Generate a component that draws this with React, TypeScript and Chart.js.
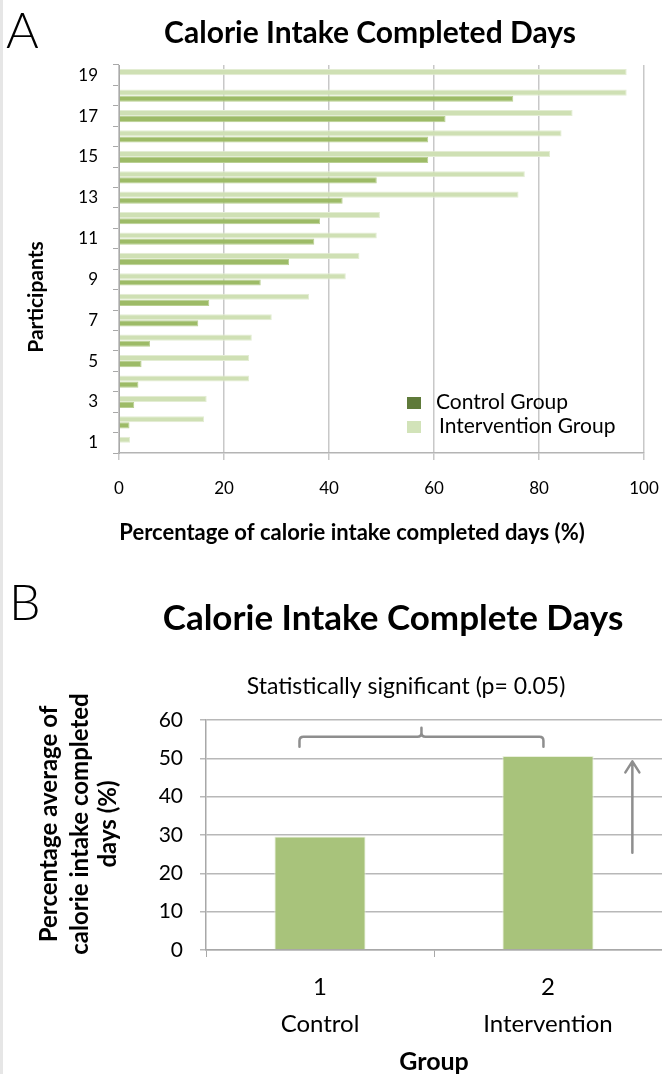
import React, { useEffect, useRef } from "react";
import { Chart, registerables } from "chart.js";

Chart.register(...registerables);

// ---------- Data (panel A) ----------
const participants = ["1", "2", "3", "4", "5", "6", "7", "8", "9", "10", "11", "12", "13", "14", "15", "16", "17", "18", "19"];
const controlPct = [0, 2.0, 2.9, 3.7, 4.3, 5.9, 15.1, 17.2, 27.0, 32.4, 37.2, 38.3, 42.6, 49.1, 58.9, 58.9, 62.2, 75.1, null];
const interventionPct = [2.1, 16.2, 16.7, 24.8, 24.8, 25.3, 29.1, 36.2, 43.2, 45.8, 49.1, 49.7, 76.1, 77.3, 82.1, 84.3, 86.4, 96.7, 96.7];
const xTicksA = [0, 20, 40, 60, 80, 100];
const seriesNamesA = ["Control Group", "Intervention Group"];

// ---------- Data (panel B) ----------
const groupNumbers = ["1", "2"];
const groupNames = ["Control", "Intervention"];
const groupAverages = [29.6, 50.6];
const yTicksB = [0, 10, 20, 30, 40, 50, 60];

const FONT = "Lato, 'Open Sans', 'Liberation Sans', sans-serif";

const panelAText = {
  id: "panelAText",
  afterDraw(chart: any) {
    const ctx = chart.ctx;
    ctx.save();
    ctx.fillStyle = "#000";
    ctx.textBaseline = "alphabetic";
    ctx.textAlign = "left";
    ctx.font = `300 50px ${FONT}`;
    ctx.fillText("A", 6, 48);
    ctx.textAlign = "center";
    ctx.font = `bold 30px ${FONT}`;
    ctx.fillText("Calorie Intake Completed Days", 370, 43);
    ctx.font = `bold 22px ${FONT}`;
    ctx.fillText("Percentage of calorie intake completed days (%)", 352, 540);
    ctx.save();
    ctx.translate(0, 297);
    ctx.rotate(-Math.PI / 2);
    ctx.font = `bold 21px ${FONT}`;
    ctx.fillText("Participants", 0, 43);
    ctx.restore();
    // legend
    ctx.textAlign = "left";
    ctx.font = `21px ${FONT}`;
    ctx.fillStyle = "#5f7a3a";
    ctx.fillRect(407, 397, 14, 12);
    ctx.fillStyle = "#d2e3b9";
    ctx.fillRect(407, 421, 14, 12);
    ctx.fillStyle = "#000";
    ctx.fillText(seriesNamesA[0], 436, 409);
    ctx.fillText(seriesNamesA[1], 439, 433);
    ctx.restore();
  },
};

const panelBText = {
  id: "panelBText",
  afterDraw(chart: any) {
    const ctx = chart.ctx;
    const xs = chart.scales.x;
    const ys = chart.scales.y;
    ctx.save();
    ctx.fillStyle = "#000";
    ctx.textBaseline = "alphabetic";
    ctx.textAlign = "left";
    ctx.font = `300 50px ${FONT}`;
    ctx.fillText("B", 9, 60);
    ctx.textAlign = "center";
    ctx.font = `bold 35px ${FONT}`;
    ctx.fillText("Calorie Intake Complete Days", 393, 70);
    ctx.font = `23px ${FONT}`;
    ctx.fillText("Statistically significant (p= 0.05)", 406, 134);
    ctx.font = `bold 25px ${FONT}`;
    ctx.fillText("Group", (chart.chartArea.left + chart.chartArea.right) / 2, 510);
    ctx.save();
    ctx.translate(0, 264);
    ctx.rotate(-Math.PI / 2);
    ctx.font = `bold 24px ${FONT}`;
    ctx.fillText("Percentage average of", 0, 57);
    ctx.fillText("calorie intake completed", 0, 88);
    ctx.fillText("days (%)", 0, 116);
    ctx.restore();

    // significance bracket
    ctx.strokeStyle = "#8e8e8e";
    ctx.lineWidth = 2.5;
    ctx.lineCap = "round";
    ctx.lineJoin = "round";
    const xL = xs.getPixelForValue(-0.09);
    const xR = xs.getPixelForValue(0.98);
    const xM = (xL + xR) / 2;
    const yLine = ys.getPixelForValue(55.6);
    const yEnd = ys.getPixelForValue(53.0);
    const yPeak = ys.getPixelForValue(58.0);
    const r = 4;
    ctx.beginPath();
    ctx.moveTo(xL, yEnd);
    ctx.lineTo(xL, yLine + r);
    ctx.quadraticCurveTo(xL, yLine, xL + r, yLine);
    ctx.lineTo(xM - r, yLine);
    ctx.quadraticCurveTo(xM, yLine, xM, yLine - r);
    ctx.lineTo(xM, yPeak);
    ctx.moveTo(xM, yLine - r);
    ctx.quadraticCurveTo(xM, yLine, xM + r, yLine);
    ctx.lineTo(xR - r, yLine);
    ctx.quadraticCurveTo(xR, yLine, xR, yLine + r);
    ctx.lineTo(xR, yEnd);
    ctx.stroke();

    // upward arrow
    const xA = xs.getPixelForValue(1.37);
    const yB = ys.getPixelForValue(25.4);
    const yT = ys.getPixelForValue(49.2);
    ctx.beginPath();
    ctx.moveTo(xA, yB);
    ctx.lineTo(xA, yT);
    ctx.moveTo(xA - 7, yT + 11);
    ctx.lineTo(xA, yT);
    ctx.lineTo(xA + 7, yT + 11);
    ctx.stroke();
    ctx.restore();
  },
};

function PanelA() {
  const ref = useRef<HTMLCanvasElement | null>(null);
  useEffect(() => {
    if (!ref.current) return;
    const chart = new Chart(ref.current, {
      type: "bar",
      data: {
        labels: participants,
        datasets: [
          {
            label: seriesNamesA[1],
            data: interventionPct,
            backgroundColor: "#cfe0b4",
            borderColor: "#e3edd3",
            borderWidth: 1,
            categoryPercentage: 0.6,
            barPercentage: 1.0,
          },
          {
            label: seriesNamesA[0],
            data: controlPct as any,
            backgroundColor: "#9dbb67",
            borderColor: "#b9cf92",
            borderWidth: 1,
            categoryPercentage: 0.6,
            barPercentage: 1.0,
          },
        ],
      },
      options: {
        indexAxis: "y",
        animation: false,
        responsive: false,
        layout: { padding: { top: 65, right: 18, bottom: 0, left: 0 } },
        plugins: { legend: { display: false }, tooltip: { enabled: false }, title: { display: false } },
        scales: {
          y: {
            type: "category",
            reverse: true,
            offset: true,
            grid: { display: true, drawOnChartArea: false, drawTicks: true, tickLength: 6, color: "#a8a8a8", offset: true },
            border: { display: true, color: "#a8a8a8", width: 1 },
            ticks: {
              autoSkip: false,
              padding: 15,
              color: "#000",
              font: { family: FONT, size: 17 },
              callback: function (this: any, v: any) {
                const l = this.getLabelForValue(v);
                return Number(l) % 2 === 1 ? l : "";
              },
            },
            afterFit: (s: any) => {
              s.width = 119;
              s.paddingTop = 0;
              s.paddingBottom = 0;
            },
          },
          x: {
            type: "linear",
            min: xTicksA[0],
            max: xTicksA[xTicksA.length - 1],
            grid: { color: "#c8c8c8", lineWidth: 1.5, tickLength: 7 },
            border: { display: true, color: "#b4b4b4", width: 1.5 },
            ticks: { stepSize: xTicksA[1] - xTicksA[0], padding: 18, color: "#000", font: { family: FONT, size: 17 } },
            afterFit: (s: any) => {
              s.height = 107;
              s.paddingLeft = 0;
              s.paddingRight = 0;
            },
          },
        },
      },
      plugins: [panelAText],
    } as any);
    return () => chart.destroy();
  }, []);
  return <canvas ref={ref} width={662} height={560} style={{ display: "block", width: 662, height: 560 }} />;
}

function PanelB() {
  const ref = useRef<HTMLCanvasElement | null>(null);
  useEffect(() => {
    if (!ref.current) return;
    const chart = new Chart(ref.current, {
      type: "bar",
      data: {
        labels: groupNumbers.map((n, i) => [n, groupNames[i]]),
        datasets: [
          {
            label: "Average",
            data: groupAverages,
            backgroundColor: "#a8c37b",
            borderColor: "#e9f0dc",
            borderWidth: 1,
            categoryPercentage: 1.0,
            barPercentage: 0.4,
          },
        ],
      },
      options: {
        animation: false,
        responsive: false,
        layout: { padding: { top: 160, right: 0, bottom: 0, left: 0 } },
        plugins: { legend: { display: false }, tooltip: { enabled: false }, title: { display: false } },
        scales: {
          x: {
            type: "category",
            offset: true,
            grid: { display: true, drawOnChartArea: false, drawTicks: true, tickLength: 7, color: "#a8a8a8", offset: true },
            border: { display: true, color: "#a8a8a8", width: 1.5 },
            ticks: { padding: 12, color: "#000", font: { family: FONT, size: 24, lineHeight: 1.54 } },
            afterFit: (s: any) => {
              s.height = 124;
              s.paddingLeft = 0;
              s.paddingRight = 0;
            },
          },
          y: {
            type: "linear",
            min: yTicksB[0],
            max: yTicksB[yTicksB.length - 1],
            grid: { color: "#b8b8b8", lineWidth: 1.5, tickLength: 6 },
            border: { display: true, color: "#a8a8a8", width: 1.5 },
            ticks: { stepSize: yTicksB[1] - yTicksB[0], padding: 17, color: "#000", font: { family: FONT, size: 21 } },
            afterFit: (s: any) => {
              s.width = 206;
            },
          },
        },
      },
      plugins: [panelBText],
    } as any);
    return () => chart.destroy();
  }, []);
  return <canvas ref={ref} width={662} height={514} style={{ display: "block", width: 662, height: 514 }} />;
}

export default function App() {
  return (
    <div style={{ position: "absolute", left: 0, top: 0, width: 662, height: 1074, background: "#fff", overflow: "hidden" }}>
      <div style={{ position: "absolute", left: 0, top: 0, width: 3, height: 1074, background: "#e6e6e6" }} />
      <div style={{ position: "absolute", left: 0, top: 0 }}>
        <PanelA />
      </div>
      <div style={{ position: "absolute", left: 0, top: 560 }}>
        <PanelB />
      </div>
    </div>
  );
}
